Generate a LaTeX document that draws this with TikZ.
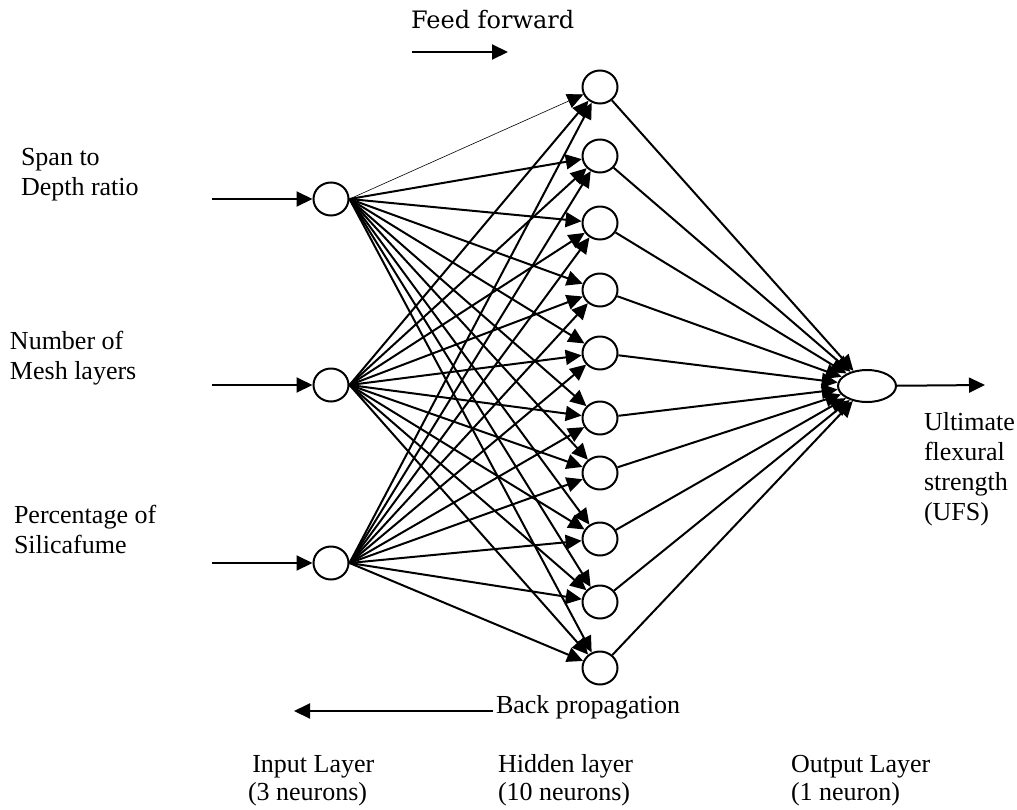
\documentclass[tikz,border=0pt]{standalone}
\usepackage{fontspec}
\setmainfont{Liberation Serif}
\newfontfamily\wideserif{DejaVu Serif}
\usetikzlibrary{arrows.meta,shapes.geometric}
\begin{document}
\begin{tikzpicture}[x=0.5pt,y=-0.5pt,font=\fontsize{13}{15}\selectfont,
  >={Triangle[length=8pt,width=7.5pt]},line width=1pt,
  neuron/.style={draw,ellipse,line width=1pt,inner sep=0pt,
    minimum width=17.5pt,minimum height=16.5pt},
  txt/.style={inner sep=0pt,align=left,anchor=base west}]
  \useasboundingbox (0,0) rectangle (1017,809);
  % input layer
  \foreach \i/\yy in {1/199,2/385,3/563}{
    \node[neuron] (in\i) at (331,\yy) {};
    \coordinate (src\i) at (212,\yy);
    \draw[->] (src\i) -- (in\i);
  }
  % hidden layer
  \foreach \j/\yy in {1/87,2/156,3/223,4/290,5/353,6/418,7/473,8/539,9/602,10/668}{
    \node[neuron] (hid\j) at (600,\yy) {};
  }
  % output layer
  \node[neuron,minimum width=29pt,minimum height=16pt] (out) at (867,386) {};
  \coordinate (res) at (985,385);
  \draw[->] (out) -- (res);
  % weights
  \foreach \i in {1,2,3}{
    \foreach \j in {1,...,10}{
      \pgfmathsetmacro{\lw}{(\i==1 && \j==1) ? 0.3 : 1}
      \draw[->,line width=\lw pt] (in\i.east) -- (hid\j);
    }
  }
  \foreach \j in {1,...,10}
    \draw[->] (hid\j) -- (out);
  % labels (base = last line)
  \node[txt] (spanlbl) at (20,195) {Span to\\Depth ratio};
  \node[txt] (meshlbl) at (9,379) {Number of\\Mesh layers};
  \node[txt] (silicalbl) at (13,553) {Percentage of\\Silicafume};
  \node[txt] (ufslbl) at (923,520) {Ultimate\\flexural\\strength\\(UFS)};
  \node[txt,font=\wideserif\fontsize{12}{14}\selectfont] (fflbl) at (410,28) {Feed forward};
  \coordinate (ffa) at (412,52);
  \coordinate (ffb) at (508,52);
  \draw[->] (ffa) -- (ffb);
  \node[txt] (bplbl) at (495,713) {Back propagation};
  \coordinate (bpa) at (493,711);
  \coordinate (bpb) at (294,711);
  \draw[->] (bpa) -- (bpb);
  \node[txt,font=\fontsize{13}{14}\selectfont] (inlbl) at (247,800) {\,Input Layer\\(3 neurons)};
  \node[txt,font=\fontsize{13}{14}\selectfont] (hidlbl) at (497,800) {Hidden layer\\(10 neurons)};
  \node[txt,font=\fontsize{13}{14}\selectfont] (outlbl) at (790,800) {Output Layer\\(1 neuron)};
\end{tikzpicture}
\end{document}
